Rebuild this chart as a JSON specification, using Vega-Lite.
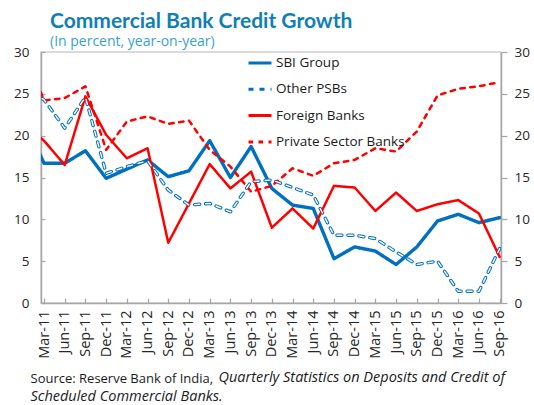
{
  "$schema": "https://vega.github.io/schema/vega-lite/v6.json",
  "width": 460,
  "height": 251,
  "autosize": {"type": "none"},
  "padding": {"left": 41, "top": 52, "right": 33, "bottom": 102},
  "background": "white",
  "title": {
    "text": "Commercial Bank Credit Growth",
    "subtitle": "(In percent, year-on-year)",
    "anchor": "start",
    "frame": "group",
    "dx": 9,
    "offset": -4,
    "font": "Lato",
    "fontSize": 21,
    "fontWeight": "bold",
    "color": "#0f7fb6",
    "subtitleFont": "Open Sans",
    "subtitleFontSize": 14,
    "subtitleColor": "#3a9fd1",
    "subtitlePadding": 3
  },
  "config": {
    "view": {"stroke": "#d0d0d0", "strokeWidth": 1.5},
    "font": "Open Sans",
    "axis": {
      "grid": false,
      "domainColor": "#a6a6a6",
      "domainWidth": 1.5,
      "tickColor": "#a6a6a6",
      "tickWidth": 1.2,
      "labelFont": "Open Sans",
      "labelFontSize": 13.5,
      "labelColor": "#262626",
      "titleFont": "Open Sans",
      "titleFontSize": 13.5,
      "titleFontWeight": "normal",
      "titleColor": "#1a1a1a"
    },
    "legend": {
      "orient": "none",
      "legendX": 206,
      "legendY": -2,
      "title": null,
      "symbolType": "stroke",
      "symbolSize": 529,
      "symbolStrokeWidth": 3,
      "labelFont": "Open Sans",
      "labelFontSize": 13.5,
      "labelColor": "#1a1a1a",
      "rowPadding": 6.3,
      "labelOffset": 3,
      "padding": 0
    }
  },
  "data": {
    "values": [
      {"q": -1, "SBI Group": 22.2, "Other PSBs": 25.8, "Foreign Banks": 21.5, "Private Sector Banks": 30.8},
      {"q": 0, "SBI Group": 16.7, "Other PSBs": 24.3, "Foreign Banks": 19.4, "Private Sector Banks": 24.2},
      {"q": 1, "SBI Group": 16.7, "Other PSBs": 20.9, "Foreign Banks": 16.5, "Private Sector Banks": 24.5},
      {"q": 2, "SBI Group": 18.2, "Other PSBs": 24.6, "Foreign Banks": 24.7, "Private Sector Banks": 25.9},
      {"q": 3, "SBI Group": 14.9, "Other PSBs": 15.5, "Foreign Banks": 20.1, "Private Sector Banks": 18.3},
      {"q": 4, "SBI Group": 16.0, "Other PSBs": 16.3, "Foreign Banks": 17.3, "Private Sector Banks": 21.7},
      {"q": 5, "SBI Group": 17.1, "Other PSBs": 17.0, "Foreign Banks": 18.5, "Private Sector Banks": 22.3},
      {"q": 6, "SBI Group": 15.1, "Other PSBs": 13.5, "Foreign Banks": 7.2, "Private Sector Banks": 21.4},
      {"q": 7, "SBI Group": 15.8, "Other PSBs": 11.7, "Foreign Banks": 11.9, "Private Sector Banks": 21.8},
      {"q": 8, "SBI Group": 19.4, "Other PSBs": 11.9, "Foreign Banks": 16.6, "Private Sector Banks": 18.3},
      {"q": 9, "SBI Group": 15.0, "Other PSBs": 10.9, "Foreign Banks": 13.7, "Private Sector Banks": 16.3},
      {"q": 10, "SBI Group": 18.7, "Other PSBs": 14.5, "Foreign Banks": 15.7, "Private Sector Banks": 13.3},
      {"q": 11, "SBI Group": 13.7, "Other PSBs": 14.7, "Foreign Banks": 9.0, "Private Sector Banks": 14.0},
      {"q": 12, "SBI Group": 11.7, "Other PSBs": 13.8, "Foreign Banks": 11.3, "Private Sector Banks": 16.1},
      {"q": 13, "SBI Group": 11.3, "Other PSBs": 12.9, "Foreign Banks": 8.9, "Private Sector Banks": 15.2},
      {"q": 14, "SBI Group": 5.3, "Other PSBs": 8.1, "Foreign Banks": 14.0, "Private Sector Banks": 16.7},
      {"q": 15, "SBI Group": 6.7, "Other PSBs": 8.1, "Foreign Banks": 13.8, "Private Sector Banks": 17.1},
      {"q": 16, "SBI Group": 6.2, "Other PSBs": 7.7, "Foreign Banks": 11.0, "Private Sector Banks": 18.5},
      {"q": 17, "SBI Group": 4.6, "Other PSBs": 6.1, "Foreign Banks": 13.2, "Private Sector Banks": 18.1},
      {"q": 18, "SBI Group": 6.7, "Other PSBs": 4.6, "Foreign Banks": 11.0, "Private Sector Banks": 20.5},
      {"q": 19, "SBI Group": 9.8, "Other PSBs": 5.0, "Foreign Banks": 11.8, "Private Sector Banks": 24.8},
      {"q": 20, "SBI Group": 10.6, "Other PSBs": 1.4, "Foreign Banks": 12.3, "Private Sector Banks": 25.6},
      {"q": 21, "SBI Group": 9.6, "Other PSBs": 1.4, "Foreign Banks": 10.7, "Private Sector Banks": 25.9},
      {"q": 22, "SBI Group": 10.2, "Other PSBs": 6.5, "Foreign Banks": 5.5, "Private Sector Banks": 26.4}
    ]
  },
  "transform": [
    {"fold": ["SBI Group", "Other PSBs", "Foreign Banks", "Private Sector Banks"], "as": ["series", "value"]}
  ],
  "encoding": {
    "x": {
      "field": "q",
      "type": "quantitative",
      "scale": {"domain": [-0.145, 22.065], "nice": false, "zero": false},
      "axis": {
        "values": [0,1,2,3,4,5,6,7,8,9,10,11,12,13,14,15,16,17,18,19,20,21,22],
        "labelExpr": "['Mar-11','Jun-11','Sep-11','Dec-11','Mar-12','Jun-12','Sep-12','Dec-12','Mar-13','Jun-13','Sep-13','Dec-13','Mar-14','Jun-14','Sep-14','Dec-14','Mar-15','Jun-15','Sep-15','Dec-15','Mar-16','Jun-16','Sep-16'][datum.value]",
        "labelAngle": -90,
        "labelAlign": "right",
        "labelBaseline": "middle",
        "labelFontSize": 14.5,
        "labelOverlap": false,
        "labelFlush": false,
        "labelBound": false,
        "tickSize": -5,
        "labelPadding": 12,
        "title": "Source: Reserve Bank of India,",
        "titleFontSize": 13,
        "titleX": -11,
        "titleY": 79,
        "titleAnchor": "start",
        "titleAlign": "left",
        "titleBaseline": "alphabetic",
        "titleAngle": 0
      }
    }
  },
  "layer": [
    {
      "transform": [{"filter": "datum.series === 'SBI Group' || datum.series === 'Other PSBs'"}],
      "mark": {"type": "line", "clip": true, "strokeWidth": 3.4, "strokeCap": "round", "strokeJoin": "round"},
      "encoding": {
        "y": {
          "field": "value",
          "type": "quantitative",
          "scale": {"domain": [0, 30], "nice": false},
          "axis": {
            "orient": "left",
            "values": [0, 5, 10, 15, 20, 25, 30],
            "tickSize": -4,
            "labelPadding": 16,
            "title": "Scheduled Commercial Banks.",
            "titleAngle": 0,
            "titleX": -11,
            "titleY": 348,
            "titleAlign": "left",
            "titleBaseline": "alphabetic",
            "titleFontStyle": "italic",
            "titleFontSize": 14.5
          }
        },
        "color": {
          "field": "series",
          "type": "nominal",
          "scale": {"domain": ["SBI Group", "Other PSBs", "Foreign Banks", "Private Sector Banks"], "range": ["#0070c0", "#0070c0", "#ff0000", "#ff0000"]}
        },
        "strokeDash": {
          "field": "series",
          "type": "nominal",
          "scale": {"domain": ["SBI Group", "Other PSBs", "Foreign Banks", "Private Sector Banks"], "range": [[1, 0], [5, 6], [1, 0], [4.5, 5.5]]}
        }
      }
    },
    {
      "transform": [{"filter": "datum.series === 'Foreign Banks' || datum.series === 'Private Sector Banks'"}],
      "mark": {"type": "line", "clip": true, "strokeWidth": 2.5, "strokeCap": "round", "strokeJoin": "round"},
      "encoding": {
        "y": {"field": "value", "type": "quantitative", "scale": {"domain": [0, 30], "nice": false}, "axis": null},
        "color": {"field": "series", "type": "nominal"},
        "strokeDash": {"field": "series", "type": "nominal"}
      }
    },
    {
      "transform": [{"filter": "datum.series === 'Other PSBs'"}],
      "mark": {"type": "line", "clip": true, "color": "white", "strokeWidth": 1.4, "strokeDash": [5, 6], "strokeCap": "round", "strokeJoin": "round"},
      "encoding": {
        "y": {
          "field": "value",
          "type": "quantitative",
          "scale": {"domain": [0, 30], "nice": false},
          "axis": {
            "orient": "right",
            "values": [0, 5, 10, 15, 20, 25, 30],
            "tickSize": 6,
            "labelPadding": 7,
            "title": "Quarterly Statistics on Deposits and Credit of",
            "titleAngle": 0,
            "titleX": -283,
            "titleY": 329.7,
            "titleAlign": "left",
            "titleBaseline": "alphabetic",
            "titleFontStyle": "italic",
            "titleFontSize": 14.5
          }
        }
      }
    }
  ],
  "resolve": {"axis": {"y": "independent"}}
}
